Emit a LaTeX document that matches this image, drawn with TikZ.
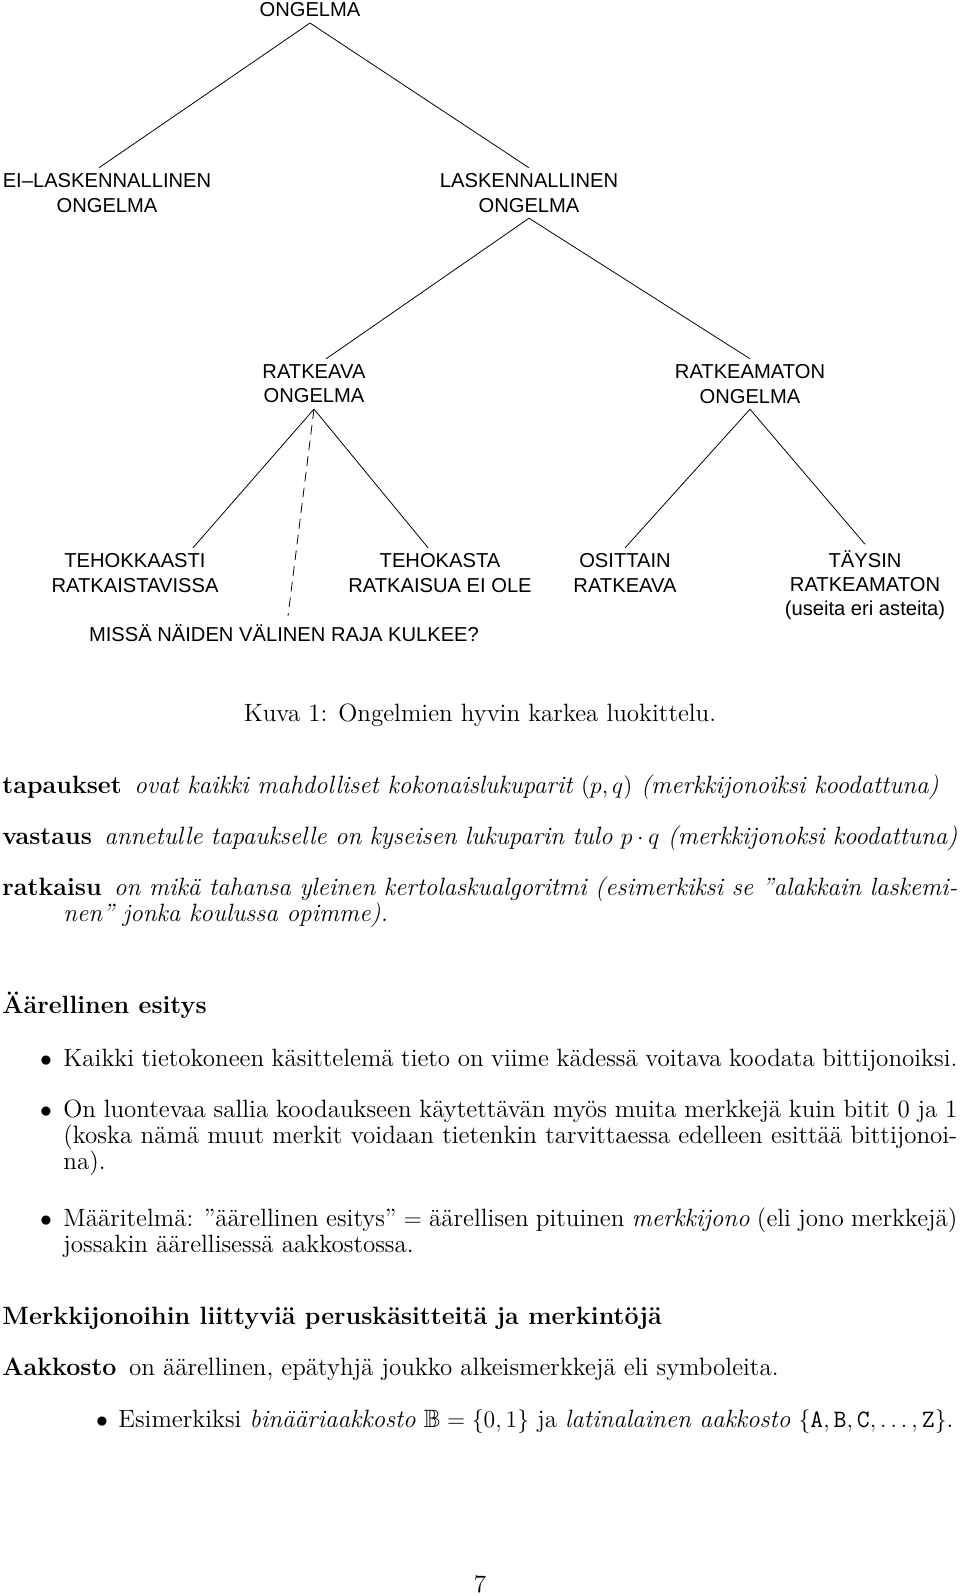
\documentclass[tikz,border=0pt,12pt]{standalone}
\usepackage{amssymb}
\usepackage{fontspec}
\newfontfamily\figfont{Liberation Sans}
\usetikzlibrary{calc, positioning}
\setlength{\parindent}{0pt}
\newdimen\yks
\yks=0.506pt

\begin{document}
\begin{tikzpicture}[x=\yks, y=-\yks,
  puu/.style={font=\figfont\fontsize{10.2}{12.3}\selectfont, align=center, inner sep=0pt, outer sep=3pt},
  kappale/.style={anchor=base west, inner sep=0pt, text width=#1, align=justify, font=\fontsize{12.66}{13.2}\selectfont},
  otsikko/.style={anchor=base west, inner sep=0pt, font=\fontsize{12.66}{13.2}\selectfont\bfseries},
  pallo/.style={anchor=base, inner sep=0pt, font=\fontsize{12.66}{13.2}\selectfont}]
  \useasboundingbox (0,0) rectangle (960,1596);
  % tree
  \node[puu] (ong) at (310,10) {ONGELMA};
  \node[puu] (eil) at (107,193) {EI–LASKENNALLINEN\\ONGELMA};
  \node[puu] (lask) at (529,193) {LASKENNALLINEN\\ONGELMA};
  \node[puu] (rtv) at (314,384) {RATKEAVA\\ONGELMA};
  \node[puu] (rtm) at (750,384) {RATKEAMATON\\ONGELMA};
  \node[puu] (teh) at (135,573) {TEHOKKAASTI\\RATKAISTAVISSA};
  \node[puu] (tks) at (440,573) {TEHOKASTA\\RATKAISUA EI OLE};
  \node[puu] (osi) at (625,573) {OSITTAIN\\RATKEAVA};
  \node[puu] (tay) at (865,585) {TÄYSIN\\RATKEAMATON\\(useita eri asteita)};
  \node[puu] (raja) at (284,633) {MISSÄ NÄIDEN VÄLINEN RAJA KULKEE?};
  \draw (ong.south) -- ($(eil.north)+(-8,0)$);
  \draw (ong.south) -- (lask.north);
  \draw (lask.south) -- ($(rtv.north)+(12,0)$);
  \draw (lask.south) -- (rtm.north);
  \draw (rtv.south) -- ($(teh.north)+(58,0)$);
  \draw (rtv.south) -- ($(tks.north)+(-12,0)$);
  \draw (rtm.south) -- (osi.north);
  \draw (rtm.south) -- (tay.north);
  % dashed border line
  \coordinate (rajapaa) at (288,616);
  \draw[dash pattern=on 5pt off 3pt] (rtv.south) -- (rajapaa);
  % caption
  \node[anchor=base, inner sep=0pt, font=\fontsize{12.66}{13.2}\selectfont] (kuva) at (480,721) {Kuva 1: Ongelmien hyvin karkea luokittelu.};
  % description list
  \node[kappale=955\yks] (tap) at (2,793) {\textbf{tapaukset}\hspace{0.5em}\textit{ovat kaikki mahdolliset kokonaislukuparit $(p,q)$ (merkkijonoiksi koodattuna)}};
  \node[kappale=955\yks] (vas) at (2,844) {\textbf{vastaus}\hspace{0.5em}\textit{annetulle tapaukselle on kyseisen lukuparin tulo $p\cdot q$ (merkkijonoksi koodattuna)}};
  \node[kappale=894\yks] (rat) at (63,895) {\hspace*{-61\yks}\textbf{ratkaisu}\hspace{0.5em}\textit{on mikä tahansa yleinen kertolaskualgoritmi (esimerkiksi se ''alakkain laskemi-\linebreak nen'' jonka koulussa opimme).}};
  % section 1
  \node[otsikko] (aar) at (2,1013) {Äärellinen esitys};
  \node[pallo] (p1) at (46,1066) {$\bullet$};
  \node[kappale=894\yks] (k1) at (63,1066) {Kaikki tietokoneen käsittelemä tieto on viime kädessä voitava koodata bittijonoiksi.};
  \node[pallo] (p2) at (46,1117) {$\bullet$};
  \node[kappale=894\yks] (k2) at (63,1117) {On luontevaa sallia koodaukseen käytettävän myös muita merkkejä kuin bitit 0 ja 1\linebreak (koska nämä muut merkit voidaan tietenkin tarvittaessa edelleen esittää bittijonoi-\linebreak na).};
  \node[pallo] (p3) at (46,1226) {$\bullet$};
  \node[kappale=894\yks] (k3) at (63,1226) {Määritelmä: ''äärellinen esitys'' $=$ äärellisen pituinen \textit{merkkijono} (eli jono merkkejä)\linebreak jossakin äärellisessä aakkostossa.};
  % section 2
  \node[otsikko] (mer) at (2,1324) {Merkkijonoihin liittyviä peruskäsitteitä ja merkintöjä};
  \node[kappale=955\yks] (aak) at (2,1375) {\textbf{Aakkosto}\hspace{0.5em}on äärellinen, epätyhjä joukko alkeismerkkejä eli symboleita.};
  \node[pallo] (p4) at (102,1427) {$\bullet$};
  \node[kappale=839\yks] (k4) at (118,1427) {Esimerkiksi \textit{binääriaakkosto} $\mathbb{B}=\{0,1\}$ ja \textit{latinalainen aakkosto} $\{\mathtt{A},\mathtt{B},\mathtt{C},\dots,\mathtt{Z}\}$.};
  % page number
  \node[anchor=base, inner sep=0pt, font=\fontsize{12.66}{13.2}\selectfont] (sivu) at (480,1592) {7};
\end{tikzpicture}
\end{document}
